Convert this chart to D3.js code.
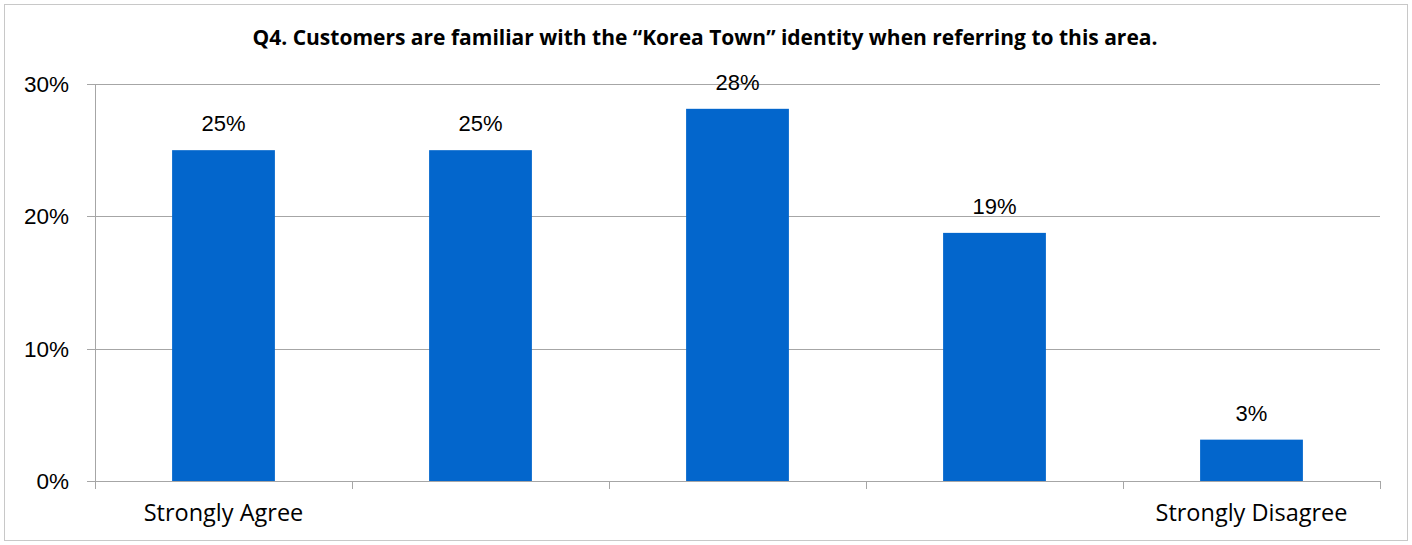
<!DOCTYPE html>
<html>
<head>
<meta charset="utf-8">
<script src="https://cdn.jsdelivr.net/npm/d3@7"></script>
<style>
  body { margin: 0; background: #fff; }
</style>
</head>
<body>
<script>
// chart data
const categories = ["Strongly Agree", "Agree", "Neutral", "Disagree", "Strongly Disagree"];
const axisLabels = ["Strongly Agree", "", "", "", "Strongly Disagree"];
const values = [0.25, 0.25, 0.28125, 0.1875, 0.03125];
const valueLabels = ["25%", "25%", "28%", "19%", "3%"];
const yTicks = [0, 0.1, 0.2, 0.3];

const w = 1412;
const h = 545;
const margin = {top: 84, right: 32, bottom: 64, left: 95};

const svg = d3.select("body")
    .append("svg")
    .attr("width", w)
    .attr("height", h);

// outer frame
svg.append("rect")
    .attr("x", 4.5).attr("y", 4.5)
    .attr("width", w - 9).attr("height", h - 9)
    .attr("fill", "#fff")
    .attr("stroke", "#c8c8c8");

svg.append("text")
    .attr("x", 705)
    .attr("y", 45)
    .attr("text-anchor", "middle")
    .style("font-family", "'Open Sans', sans-serif")
    .style("font-weight", "bold")
    .style("font-size", "21px")
    .text("Q4. Customers are familiar with the \u201CKorea Town\u201D identity when referring to this area.");

const xScale = d3.scaleBand()
    .domain(categories)
    .range([margin.left, w - margin.right])
    .paddingInner(0.6)
    .paddingOuter(0.3);

const yScale = d3.scaleLinear()
    .domain([0, 0.3])
    .range([h - margin.bottom, margin.top]);

// gridlines
svg.append("g")
    .selectAll("line")
    .data(yTicks)
    .enter()
    .append("line")
    .attr("x1", margin.left - 8)
    .attr("x2", w - margin.right)
    .attr("y1", d => Math.round(yScale(d)) + 0.5)
    .attr("y2", d => Math.round(yScale(d)) + 0.5)
    .attr("stroke", "#a6a6a6")
    .attr("stroke-width", 1);

// y tick labels
svg.append("g")
    .selectAll("text")
    .data(yTicks)
    .enter()
    .append("text")
    .attr("x", 69)
    .attr("y", d => yScale(d))
    .attr("dy", "0.35em")
    .attr("text-anchor", "end")
    .style("font-family", "'Liberation Sans', Arial, sans-serif")
    .style("font-size", "22.5px")
    .attr("fill", "#000")
    .text(d3.format(".0%"));

// y axis line
svg.append("line")
    .attr("x1", margin.left + 0.5).attr("x2", margin.left + 0.5)
    .attr("y1", margin.top).attr("y2", h - margin.bottom + 8)
    .attr("stroke", "#a6a6a6");

// x category boundary ticks
const bounds = d3.range(categories.length + 1).map(i => margin.left + i * (w - margin.left - margin.right) / categories.length);
svg.append("g")
    .selectAll("line")
    .data(bounds)
    .enter()
    .append("line")
    .attr("x1", d => Math.round(d) + 0.5)
    .attr("x2", d => Math.round(d) + 0.5)
    .attr("y1", yScale(0))
    .attr("y2", yScale(0) + 8)
    .attr("stroke", "#a6a6a6");

// bars
svg.append("g")
    .selectAll("rect")
    .data(values)
    .enter()
    .append("rect")
    .attr("x", (d, i) => xScale(categories[i]))
    .attr("y", d => yScale(d))
    .attr("width", xScale.bandwidth())
    .attr("height", d => yScale(0) - yScale(d))
    .attr("fill", "#0366cc");

// value labels
svg.append("g")
    .selectAll("text")
    .data(values)
    .enter()
    .append("text")
    .attr("x", (d, i) => xScale(categories[i]) + xScale.bandwidth() / 2)
    .attr("y", d => yScale(d) - 19)
    .attr("text-anchor", "middle")
    .style("font-family", "'Liberation Sans', Arial, sans-serif")
    .style("font-size", "22px")
    .text((d, i) => valueLabels[i]);

// category labels
svg.append("g")
    .selectAll("text")
    .data(categories)
    .enter()
    .append("text")
    .attr("x", d => xScale(d) + xScale.bandwidth() / 2)
    .attr("y", 521)
    .attr("text-anchor", "middle")
    .style("font-family", "'Open Sans', sans-serif")
    .style("font-size", "23.5px")
    .text((d, i) => axisLabels[i]);
</script>
</body>
</html>
